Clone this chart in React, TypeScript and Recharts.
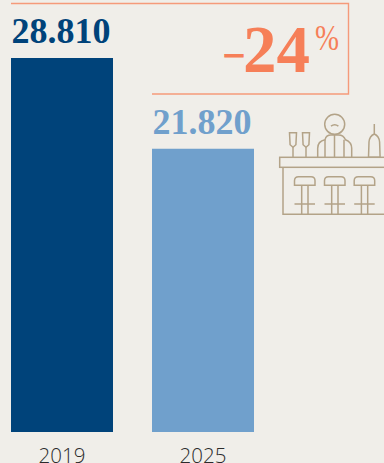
import React from 'react';
import { BarChart, Bar, Cell, LabelList, XAxis, YAxis } from 'recharts';

const years = ['2019', '2025'];
const visitors = [28810, 21820];
const valueLabels = ['28.810', '21.820'];
const barColors = ['#00437a', '#70a0cc'];

const changeLabel = '24';

const rows = years.map((year, i) => ({ year, visitors: visitors[i] }));

const SERIF = '"Liberation Serif", serif';
const BG = '#f0eee9';
const ACCENT = '#f67f58';
const ICON = '#b3a388';

const renderValue = (props: any) => {
    const { x, y, width, index } = props;
    return (
        <text
            x={x + width / 2 - 1}
            y={y - 15}
            textAnchor="middle"
            fontFamily={SERIF}
            fontWeight={700}
            fontSize={36}
            fill={barColors[index]}
        >
            {valueLabels[index]}
        </text>
    );
};

const Stool = ({ dx }: { dx: number }) => (
    <g transform={`translate(${dx} 0)`}>
        <path d="M294.5 185.3v-4.5q0-4 4-4h12.5q4 0 4 4v4.5z" />
        <path d="M301.7 185.3V214M308 185.3V214M294.5 204h20.5" />
    </g>
);

const Glass = ({ dx }: { dx: number }) => (
    <g transform={`translate(${dx} 0)`}>
        <path d="M289.5 132.7h7l-.6 12-2.9 2.6-2.9-2.6z" />
        <path d="M293 147.3v10" />
    </g>
);

// bar counter with bartender, drawn as thin outlines
const BarIcon = () => (
    <g fill="none" stroke={ICON} strokeWidth={1.5}>
        <circle cx={334.7} cy={124.3} r={10} />
        <path d="M331 126.2q3.700-3 7.400 0" />
        <path d="M317.7 157.3v-9q0-7 7.3-8.5 1-4.8 6-4.8h7.5q5 0 7 4.8 6.2 2.500 6.2 8.500v9" />
        <path d="M325 139.8v17.5M334.5 135v22.3M344 139.8v17.5" />
        <Glass dx={0} />
        <Glass dx={13} />
        <path d="M374.3 124v10M374.3 134q-4.800 2-5.300 8l-.5 15.300h11.600l-.5-15.300q-.5-6-5.300-8z" />
        <rect x={279.7} y={157.3} width={110} height={10} />
        <path d="M283 167.300V214.300H390" />
        <Stool dx={0} />
        <Stool dx={30} />
        <Stool dx={59.700} />
    </g>
);

const Overlay = () => (
    <svg width={384} height={463} style={{ position: 'absolute', left: 0, top: 0 }}>
        <path d="M11 3.500H348.500V94H152" fill="none" stroke="#f59a7a" strokeWidth={1.400} />
        <text x={225} y={64} fontFamily={SERIF} fontSize={36} fontWeight={700} fill={ACCENT} stroke={ACCENT} strokeWidth={0.8}>–</text>
        <text x={243} y={72} fontFamily={SERIF} fontSize={67} fontWeight={700} fill={ACCENT}>{changeLabel}</text>
        <text x={315} y={50} fontFamily={SERIF} fontSize={35} fill={ACCENT} textLength={24} lengthAdjust="spacingAndGlyphs">%</text>
        <BarIcon />
    </svg>
);

export default function App() {
    return (
        <div style={{ position: 'absolute', left: 0, top: 0, width: 384, height: 463, background: BG, overflow: 'hidden' }}>
            <BarChart
                width={384}
                height={463}
                data={rows}
                margin={{ top: 58, right: 110.5, bottom: 0, left: -8.5 }}
                barCategoryGap={19.5}
            >
                <XAxis
                    dataKey="year"
                    axisLine={false}
                    tickLine={false}
                    tickMargin={10}
                    height={31}
                    tick={{ fill: '#2b2b2b', fontSize: 20.5, fontWeight: 300, fontFamily: '"Open Sans", sans-serif' }}
                />
                <YAxis hide domain={[0, visitors[0]]} />
                <Bar dataKey="visitors" isAnimationActive={false}>
                    {rows.map((row, i) => <Cell key={row.year} fill={barColors[i]} />)}
                    <LabelList dataKey="visitors" content={renderValue} />
                </Bar>
            </BarChart>
            <Overlay />
        </div>
    );
}
